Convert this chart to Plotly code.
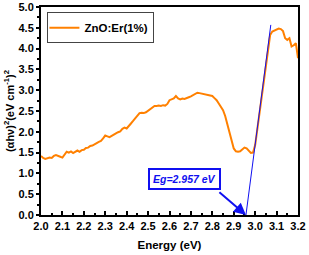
import plotly.graph_objects as go

energy = [2.000, 2.010, 2.020, 2.030, 2.040, 2.050, 2.060, 2.070, 2.080, 2.090,
          2.100, 2.110, 2.120, 2.130, 2.140, 2.150, 2.160, 2.170, 2.180, 2.190,
          2.200, 2.210, 2.220, 2.230, 2.240, 2.250, 2.260, 2.270, 2.280, 2.290,
          2.300, 2.310, 2.320, 2.330, 2.340, 2.350, 2.360, 2.370, 2.380, 2.390,
          2.400, 2.410, 2.420, 2.430, 2.440, 2.450, 2.460, 2.470, 2.480, 2.490,
          2.500, 2.510, 2.520, 2.530, 2.540, 2.550, 2.560, 2.570, 2.580, 2.590,
          2.600, 2.610, 2.620, 2.630, 2.640, 2.650, 2.660, 2.670, 2.680, 2.690,
          2.700, 2.710, 2.720, 2.730, 2.740, 2.750, 2.760, 2.770, 2.780, 2.790,
          2.800, 2.810, 2.820, 2.830, 2.840, 2.850, 2.860, 2.870, 2.880, 2.890,
          2.900, 2.910, 2.920, 2.930, 2.940, 2.950, 2.960, 2.970, 2.980, 2.990,
          2.995, 3.000, 3.010, 3.020, 3.030, 3.040, 3.050, 3.060, 3.070, 3.080,
          3.090, 3.100, 3.110, 3.120, 3.130, 3.140, 3.150, 3.160, 3.170, 3.180,
          3.190, 3.200]
ahv2 = [1.42, 1.37, 1.35, 1.36, 1.38, 1.37, 1.42, 1.44, 1.41, 1.40,
        1.38, 1.45, 1.52, 1.50, 1.53, 1.49, 1.52, 1.55, 1.52, 1.56,
        1.57, 1.61, 1.62, 1.66, 1.67, 1.71, 1.73, 1.76, 1.78, 1.84,
        1.91, 1.89, 1.87, 1.90, 1.94, 1.96, 1.99, 2.01, 2.07, 2.10,
        2.08, 2.13, 2.20, 2.26, 2.33, 2.40, 2.45, 2.46, 2.45, 2.47,
        2.51, 2.55, 2.60, 2.62, 2.62, 2.63, 2.62, 2.64, 2.63, 2.67,
        2.76, 2.78, 2.80, 2.86, 2.80, 2.78, 2.80, 2.79, 2.82, 2.83,
        2.85, 2.88, 2.93, 2.94, 2.93, 2.92, 2.91, 2.90, 2.89, 2.88,
        2.86, 2.81, 2.76, 2.68, 2.60, 2.52, 2.38, 2.20, 1.98, 1.78,
        1.60, 1.53, 1.52, 1.53, 1.58, 1.62, 1.60, 1.53, 1.49, 1.50,
        1.58, 1.68, 2.06, 2.45, 2.85, 3.22, 3.62, 4.00, 4.33, 4.41,
        4.43, 4.45, 4.48, 4.47, 4.42, 4.25, 4.21, 4.25, 4.05, 4.08,
        4.13, 3.77]

fit_x = [2.957, 3.073]
fit_y = [0.0, 4.57]

eg_value = 2.957
eg_label = "Eg=2.957 eV"
series_name = "ZnO:Er(1%)"

x_ticks = [2.0, 2.1, 2.2, 2.3, 2.4, 2.5, 2.6, 2.7, 2.8, 2.9, 3.0, 3.1, 3.2]
y_ticks = [0.0, 0.5, 1.0, 1.5, 2.0, 2.5, 3.0, 3.5, 4.0, 4.5, 5.0]

FONT = "Liberation Sans, Arial, sans-serif"

fig = go.Figure()
fig.add_trace(go.Scatter(x=energy, y=ahv2, mode="lines",
                         name="<b>" + series_name + "</b>",
                         line=dict(color="#FF8000", width=2)))
fig.add_trace(go.Scatter(x=fit_x, y=fit_y, mode="lines", showlegend=False,
                         line=dict(color="#1010F0", width=1)))

fig.add_annotation(x=2.67, y=0.86, xref="x", yref="y", showarrow=False,
                   text="<b><i>" + eg_label + "</i></b>",
                   font=dict(family=FONT, size=10.5, color="#1010F0"),
                   bordercolor="#1010F0", borderwidth=2, borderpad=3,
                   bgcolor="white")
fig.add_annotation(x=eg_value, y=0.0, xref="x", yref="y",
                   ax=2.826, ay=0.58, axref="x", ayref="y",
                   text="", showarrow=True, arrowhead=2, arrowsize=1.2,
                   arrowwidth=2, arrowcolor="#1010F0", standoff=0)

fig.update_layout(
    width=309, height=255,
    margin=dict(l=41, r=11, t=7, b=40, autoexpand=False),
    paper_bgcolor="white", plot_bgcolor="white",
    font=dict(family=FONT, size=11, color="black"),
    legend=dict(x=0.025, y=0.975, xanchor="left", yanchor="top",
                bordercolor="#444444", borderwidth=1, bgcolor="white",
                font=dict(family=FONT, size=11.5, color="black"),
                itemwidth=30, tracegroupgap=0, indentation=-4),
    showlegend=True,
)

fig.update_xaxes(range=[2.0, 3.2], tickvals=x_ticks,
                 ticktext=["<b>%.1f</b>" % v for v in x_ticks],
                 ticks="inside", ticklen=4, tickwidth=1.5, tickcolor="black",
                 minor=dict(dtick=0.05, ticks="inside", ticklen=2, tickcolor="black"),
                 showline=True, linecolor="black", linewidth=2, mirror=True,
                 showgrid=False, zeroline=False, automargin=False,
                 ticklabeloverflow="allow",
                 title=dict(text="<b>Energy (eV)</b>", font=dict(size=11.5), standoff=10),
                 tickfont=dict(size=11))
fig.update_yaxes(range=[0, 5.0], tickvals=y_ticks,
                 ticktext=["<b>%.1f</b>" % v for v in y_ticks],
                 ticks="outside", ticklen=3, tickwidth=1.5, tickcolor="black",
                 minor=dict(dtick=0.25, ticks="outside", ticklen=2, tickcolor="black"),
                 showline=True, linecolor="black", linewidth=2, mirror=True,
                 showgrid=False, zeroline=False, automargin=False,
                 title=dict(text="<b>(αhν)<sup>2</sup>(eV cm<sup>-1</sup>)<sup>2</sup></b>",
                            font=dict(size=11), standoff=2),
                 tickfont=dict(size=11))

fig.write_html("out.html", config={"displayModeBar": False},
               post_script="document.body.style.margin='0';document.body.style.overflow='hidden';")
